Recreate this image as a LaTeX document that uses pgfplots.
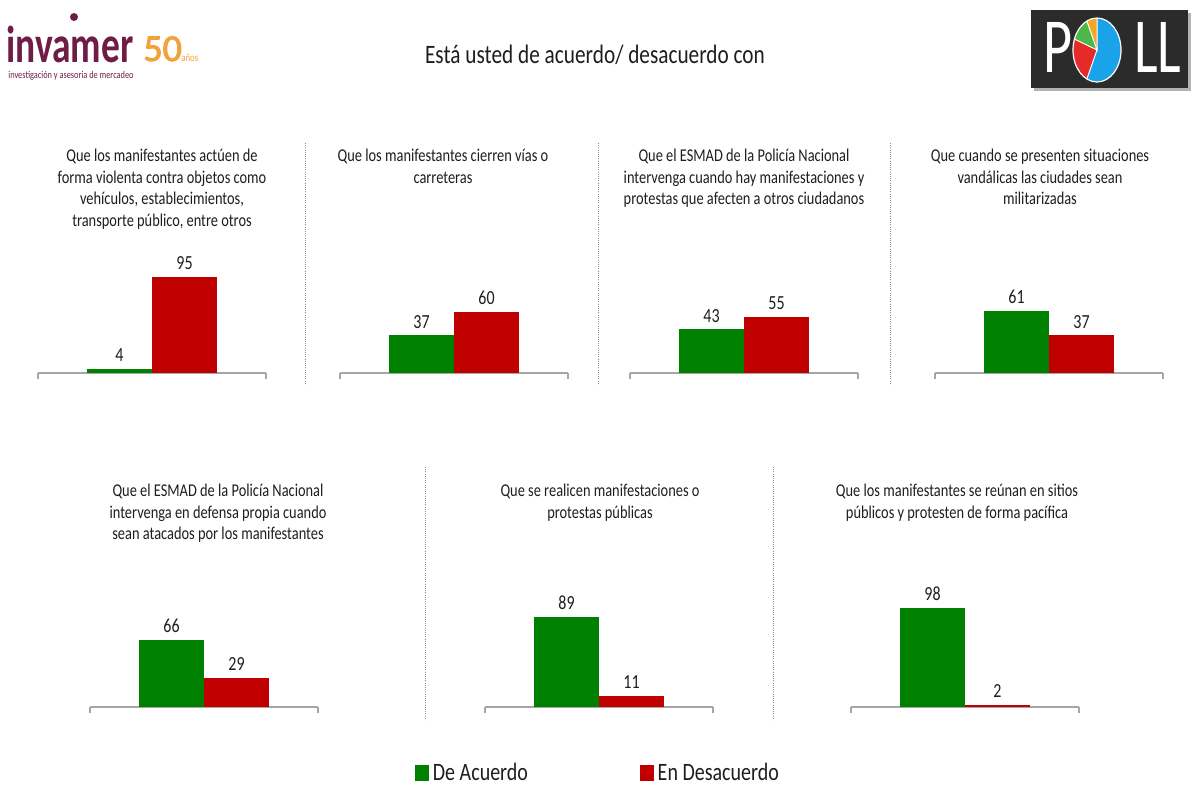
\documentclass[border=0pt]{standalone}
\usepackage{pgfplots}
\pgfplotsset{compat=1.18}
\usepackage{fontspec}
\setmainfont{Carlito}[FakeStretch=0.8]
\newfontfamily\logofont{Carlito}[FakeStretch=0.72]
\newfontfamily\heavyfont{Carlito}[FakeBold=2.5]

\definecolor{ag}{HTML}{008000}
\definecolor{dr}{HTML}{C00000}
\definecolor{axg}{HTML}{A6A6A6}
\definecolor{txt}{HTML}{1E1E1E}
\definecolor{maroon}{HTML}{6F1D46}
\definecolor{orng}{HTML}{F2A23A}
\definecolor{pollbg}{HTML}{2B2B2B}
\definecolor{pblue}{HTML}{1AA3E8}
\definecolor{pred}{HTML}{E52A2A}
\definecolor{pgreen}{HTML}{4DB848}
\definecolor{porange}{HTML}{F5A623}

\pgfplotsset{
  panel/.style={
    scale only axis, width=114pt, height=50.75pt,
    anchor=south west,
    xmin=-1.254, xmax=2.254, ymin=0, ymax=100,
    axis x line=bottom, axis y line=none,
    axis line style={-, draw=axg, line width=0.6pt},
    xtick={-1.254,2.254}, xticklabels={}, ytick=\empty,
    tick align=outside, major tick length=3pt,
    tick style={draw=axg, line width=0.6pt},
    clip=false,
    nodes near coords,
    every node near coord/.append style={font=\fontsize{10}{12}\selectfont, text=txt},
    /pgf/number format/assume math mode=true,
  },
  gbar/.style={ybar, bar width=32.5pt, bar shift=0pt, fill=ag, draw=none},
  rbar/.style={ybar, bar width=32.5pt, bar shift=0pt, fill=dr, draw=none},
}

\begin{document}
\begin{tikzpicture}
\path[use as bounding box] (0pt,0pt) rectangle (600pt,-400pt);

% ---- top row ----
\begin{axis}[panel, at={(19pt,-186.5pt)}]
\addplot[gbar] coordinates {(0,4)};
\addplot[rbar] coordinates {(1,95)};
\end{axis}

\begin{axis}[panel, at={(170pt,-186.5pt)}]
\addplot[gbar] coordinates {(0,37)};
\addplot[rbar] coordinates {(1,60)};
\end{axis}

\begin{axis}[panel, at={(315pt,-186.5pt)}]
\addplot[gbar] coordinates {(0,43)};
\addplot[rbar] coordinates {(1,55)};
\end{axis}

\begin{axis}[panel, at={(467.5pt,-186.5pt)}]
\addplot[gbar] coordinates {(0,61)};
\addplot[rbar] coordinates {(1,37)};
\end{axis}

% ---- bottom row ----
\begin{axis}[panel, at={(45pt,-353.5pt)}]
\addplot[gbar] coordinates {(0,66)};
\addplot[rbar] coordinates {(1,29)};
\end{axis}

\begin{axis}[panel, at={(242.5pt,-353.5pt)},
  legend columns=2,
  legend style={at={(0.5,0)}, anchor=center, yshift=-33pt, draw=none, fill=none,
    font=\fontsize{12.5}{14}\selectfont, text=txt,
    /tikz/every even column/.append style={column sep=54pt}},
  legend image code/.code={\fill[#1] (0pt,-3.75pt) rectangle (6.5pt,3.75pt);},
]
\addplot[gbar, forget plot] coordinates {(0,89)};
\addplot[rbar, forget plot] coordinates {(1,11)};
\addlegendimage{ag}
\addlegendentry{De Acuerdo}
\addlegendimage{dr}
\addlegendentry{En Desacuerdo}
\end{axis}

\begin{axis}[panel, at={(425.5pt,-353.5pt)}]
\addplot[gbar] coordinates {(0,98)};
\addplot[rbar] coordinates {(1,2)};
\end{axis}

% ---- texts, separators, logos (pixel units) ----
\begin{scope}[x=0.5pt, y=-0.5pt,
  ttl/.style={anchor=north, align=center, inner sep=0pt, text=txt,
    font=\fontsize{9}{10.75}\selectfont},
  sep/.style={draw=black!45, line width=0.5pt, dash pattern=on 0.5pt off 0.6pt}]

\node[anchor=base, inner sep=0pt, text=txt, font=\fontsize{13.3}{16}\selectfont]
  at (595,63) {Está usted de acuerdo/ desacuerdo con};

\node[ttl] at (162,149) {Que los manifestantes actúen de\\forma violenta contra objetos como\\vehículos, establecimientos,\\transporte público, entre otros};
\node[ttl] at (443,149) {Que los manifestantes cierren vías o\\carreteras};
\node[ttl] at (744,149) {Que el ESMAD de la Policía Nacional\\intervenga cuando hay manifestaciones y\\protestas que afecten a otros ciudadanos};
\node[ttl] at (1040,149) {Que cuando se presenten situaciones\\vandálicas las ciudades sean\\militarizadas};
\node[ttl] at (218,484) {Que el ESMAD de la Policía Nacional\\intervenga en defensa propia cuando\\sean atacados por los manifestantes};
\node[ttl] at (600,484) {Que se realicen manifestaciones o\\protestas públicas};
\node[ttl] at (957,484) {Que los manifestantes se reúnan en sitios\\públicos y protesten de forma pacífica};

\draw[sep] (305,143) -- (305,385);
\draw[sep] (598,143) -- (598,385);
\draw[sep] (890,143) -- (890,385);
\draw[sep] (425,467) -- (425,720);
\draw[sep] (773,467) -- (773,720);

% invamer logo
\node[anchor=base west, inner sep=0pt, text=maroon, font=\logofont\bfseries\fontsize{26}{26}\selectfont]
  at (6,62) {invamer};
\fill[maroon] (74,17) circle (4);
\node[anchor=base west, inner sep=0pt, text=orng, font=\heavyfont\fontsize{19}{19}\selectfont]
  at (143,61) {50};
\node[anchor=base west, inner sep=0pt, text=orng, font=\fontsize{5.5}{6}\selectfont]
  at (181,61) {años};
\node[anchor=base west, inner sep=0pt, text=maroon, font=\fontsize{5.2}{5.4}\selectfont]
  at (8,78) {investigación y asesoria de mercadeo};

% POLL logo
\fill[black!30] (1034,13) rectangle (1191,91);
\fill[pollbg] (1031,10) rectangle (1188,88);
\node[anchor=base west, inner sep=0pt, text=white, font=\logofont\fontsize{39}{39}\selectfont]
  at (1043,72) {P};
\node[anchor=base west, inner sep=0pt, text=white, font=\logofont\fontsize{39}{39}\selectfont]
  at (1134,72) {LL};
\end{scope}

\begin{scope}[shift={(548.5pt,-25pt)}]
\fill[pblue] (0,0) -- (245:12pt and 16pt) arc[start angle=245, end angle=450, x radius=12pt, y radius=16pt] -- cycle;
\fill[porange] (0,0) -- (90:12pt and 16pt) arc[start angle=90, end angle=115, x radius=12pt, y radius=16pt] -- cycle;
\fill[pgreen] (0,0) -- (115:12pt and 16pt) arc[start angle=115, end angle=160, x radius=12pt, y radius=16pt] -- cycle;
\fill[pred] (0,0) -- (160:12pt and 16pt) arc[start angle=160, end angle=245, x radius=12pt, y radius=16pt] -- cycle;
\draw[white, line width=0.6pt] (0,0) ellipse[x radius=12pt, y radius=16pt];
\draw[white, line width=0.5pt] (90:12pt and 16pt) -- (0,0) -- (245:12pt and 16pt);
\draw[white, line width=0.5pt] (115:12pt and 16pt) -- (0,0) -- (160:12pt and 16pt);
\end{scope}
\end{tikzpicture}
\end{document}
